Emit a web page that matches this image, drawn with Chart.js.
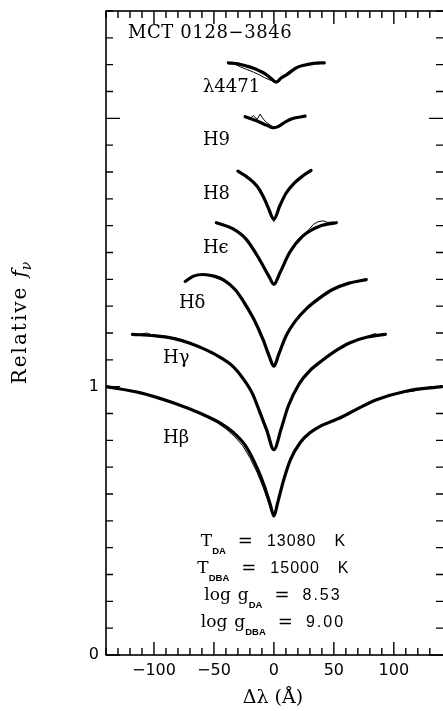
<!DOCTYPE html>
<html><head><meta charset="utf-8">
<script src="https://cdn.jsdelivr.net/npm/chart.js@4.4.1/dist/chart.umd.min.js"></script>
<style>html,body{margin:0;padding:0;background:#fff;}canvas{display:block;}</style>
</head><body>
<canvas id="c" width="443" height="711"></canvas>
<script>
// ---------- data (Δλ in Å, relative flux with vertical offsets) ----------
const xLabelValues = [-100, -50, 0, 50, 100];
const yLabelValues = [0, 1];

// H-beta
const hbModelX = [-140,-112,-84,-60,-45,-34,-24,-14,-8,-3,0,3,8,14,22,30,40,50,60,70,85,110,140];
const hbModelY = [1.000,0.978,0.940,0.898,0.865,0.830,0.782,0.697,0.630,0.560,0.518,0.565,0.650,0.730,0.792,0.828,0.856,0.874,0.895,0.918,0.950,0.983,1.000];
const hbObsX = [-140,-132,-125,-118,-112,-104,-96,-88,-80,-72,-64,-56,-48,-40,-33,-26,-20,-14,-9,-5,-2,0,2,5,9,14,20,26,32,38,44,50,56,62,68,74,80,86,92,98,104,110,116,122,128,134,140];
const hbObsY = [0.998,0.992,0.990,0.985,0.979,0.968,0.960,0.948,0.935,0.922,0.904,0.886,0.868,0.843,0.815,0.780,0.735,0.680,0.625,0.575,0.535,0.515,0.540,0.598,0.668,0.728,0.782,0.812,0.835,0.852,0.862,0.874,0.880,0.895,0.910,0.925,0.940,0.951,0.958,0.968,0.975,0.980,0.983,0.990,0.993,0.996,0.999];

// H-gamma
const hgModelX = [-118,-100,-84,-70,-57,-45,-34,-26,-18,-12,-6,0,6,12,21,30,41,52,63,78,93];
const hgModelY = [1.195,1.190,1.180,1.162,1.138,1.110,1.075,1.032,0.975,0.908,0.838,0.765,0.842,0.928,1.010,1.060,1.100,1.135,1.163,1.185,1.195];
const hgObsX = [-118,-112,-106,-100,-94,-88,-82,-76,-70,-64,-58,-52,-46,-40,-34,-28,-22,-16,-11,-6,-3,0,3,6,10,14,18,22,26,30,36,42,48,54,60,66,72,78,84,88,93];
const hgObsY = [1.196,1.195,1.200,1.190,1.191,1.184,1.182,1.170,1.165,1.150,1.140,1.128,1.108,1.095,1.072,1.045,1.005,0.960,0.905,0.838,0.790,0.760,0.790,0.842,0.905,0.955,0.985,1.020,1.035,1.055,1.085,1.100,1.125,1.138,1.160,1.168,1.180,1.186,1.198,1.192,1.196];

// H-delta
const hdModelX = [-74,-67,-59,-50,-42,-32,-23,-16,-9,-4,0,4,10,18,27,38,49,62,77];
const hdModelY = [1.392,1.412,1.418,1.412,1.398,1.360,1.300,1.245,1.175,1.115,1.076,1.120,1.188,1.245,1.290,1.330,1.362,1.385,1.399];
const hdObsX = [-74,-68,-62,-56,-50,-44,-38,-32,-26,-22,-18,-14,-10,-6,-3,0,3,6,10,14,18,23,28,34,40,46,52,58,64,70,77];
const hdObsY = [1.390,1.410,1.418,1.416,1.410,1.398,1.385,1.360,1.330,1.300,1.262,1.228,1.185,1.140,1.105,1.078,1.108,1.150,1.190,1.222,1.246,1.270,1.295,1.318,1.336,1.352,1.368,1.378,1.386,1.393,1.400];

// H-epsilon
const heModelX = [-48,-34,-23,-12,-4,0,5,13,24,38,52];
const heModelY = [1.611,1.588,1.549,1.474,1.410,1.381,1.424,1.499,1.561,1.598,1.611];
const heObsX = [-48,-42,-36,-30,-26,-22,-18,-14,-10,-6,-3,0,3,6,10,14,17,21,26,30,33,37,41,45,49,52];
const heObsY = [1.612,1.605,1.592,1.575,1.565,1.545,1.520,1.488,1.458,1.430,1.405,1.380,1.405,1.432,1.470,1.508,1.520,1.548,1.570,1.590,1.605,1.615,1.618,1.612,1.614,1.611];

// H8
const h8ModelX = [-30,-22,-14,-9,-5,0,5,10,16,24,31];
const h8ModelY = [1.803,1.780,1.747,1.710,1.670,1.625,1.675,1.720,1.754,1.785,1.806];
const h8ObsX = [-30,-26,-22,-18,-14,-10,-7,-4,-2,0,2,5,8,12,16,20,24,28,31];
const h8ObsY = [1.803,1.795,1.782,1.768,1.748,1.715,1.685,1.650,1.628,1.615,1.630,1.672,1.705,1.735,1.756,1.772,1.786,1.798,1.806];

// H9
const h9ModelX = [-24,-15,-8,-3,0,4,10,17,26];
const h9ModelY = [2.006,1.992,1.978,1.968,1.965,1.970,1.988,2.001,2.008];
const h9ObsX = [-24,-20,-17,-14,-11.5,-9,-6,-3,0,3,6,10,14,18,22,26];
const h9ObsY = [2.006,2.000,2.010,1.996,2.016,1.998,1.984,1.975,1.966,1.972,1.978,1.990,1.996,2.003,2.006,2.009];

// He I 4471
const heiModelX = [-38,-30,-23,-17,-12,-7,-3,2,6,11,19,26,33,42];
const heiModelY = [2.207,2.203,2.195,2.187,2.177,2.165,2.151,2.135,2.150,2.164,2.189,2.199,2.205,2.207];
const heiObsX = [-38,-33,-28,-23,-17,-12,-8,-4,0,2,6,11,16,22,28,33,37,42];
const heiObsY = [2.207,2.203,2.192,2.183,2.172,2.162,2.152,2.144,2.138,2.135,2.150,2.165,2.178,2.193,2.200,2.206,2.203,2.209];

// text labels
const lineLabels = ["MCT 0128\u22123846", "\u03bb4471", "H9", "H8", "H\u03f5", "H\u03b4", "H\u03b3", "H\u03b2"];

// ---------- presentation ----------
const zip = (xs, ys) => xs.map((x, i) => ({x: x, y: ys[i]}));
const profiles = [
  [hbObsX, hbObsY, hbModelX, hbModelY],
  [hgObsX, hgObsY, hgModelX, hgModelY],
  [hdObsX, hdObsY, hdModelX, hdModelY],
  [heObsX, heObsY, heModelX, heModelY],
  [h8ObsX, h8ObsY, h8ModelX, h8ModelY],
  [h9ObsX, h9ObsY, h9ModelX, h9ModelY],
  [heiObsX, heiObsY, heiModelX, heiModelY]
];
const datasets = [];
profiles.forEach(p => {
  datasets.push({data: zip(p[2], p[3]), borderColor: '#000', borderWidth: 3.2, pointRadius: 0, cubicInterpolationMode: 'monotone', fill: false, borderCapStyle: 'round', borderJoinStyle: 'round'});
  datasets.push({data: zip(p[0], p[1]), borderColor: '#000', borderWidth: 1, pointRadius: 0, tension: 0, fill: false});
});

// label anchors (data coords: left edge, vertical middle)
const labelPos = [
  {x: -121.7, y: 2.318}, {x: -59.2, y: 2.116}, {x: -59.2, y: 1.918}, {x: -59.2, y: 1.717},
  {x: -59.2, y: 1.515}, {x: -79.2, y: 1.310}, {x: -92.5, y: 1.105}, {x: -92.5, y: 0.806}
];

const SERIF = '"DejaVu Serif", serif';
const SANS = '"Liberation Sans", Arial, sans-serif';
const SUB = 'bold 9.5px ' + SANS;
const EQ = '18px "DejaVu Sans"';
const NUM = '16px ' + SANS;
const paramLines = [
  {y: 0.407, runs: [{t: 'T', f: '17px ' + SERIF}, {t: 'DA', f: SUB, dy: 8}, {g: 12}, {t: '=', f: EQ}, {g: 14}, {t: '13080', f: NUM, ls: 1}, {g: 18}, {t: 'K', f: NUM}]},
  {y: 0.306, runs: [{t: 'T', f: '17px ' + SERIF}, {t: 'DBA', f: SUB, dy: 8}, {g: 12}, {t: '=', f: EQ}, {g: 14}, {t: '15000', f: NUM, ls: 1}, {g: 18}, {t: 'K', f: NUM}]},
  {y: 0.205, runs: [{t: 'log', f: '17px ' + SERIF}, {g: 7}, {t: 'g', f: '17px ' + SERIF}, {t: 'DA', f: SUB, dy: 8}, {g: 12}, {t: '=', f: EQ}, {g: 13}, {t: '8.53', f: NUM, ls: 2}]},
  {y: 0.104, runs: [{t: 'log', f: '17px ' + SERIF}, {g: 7}, {t: 'g', f: '17px ' + SERIF}, {t: 'DBA', f: SUB, dy: 8}, {g: 12}, {t: '=', f: EQ}, {g: 13}, {t: '9.00', f: NUM, ls: 2}]}
];

function setLS(ctx, v) { if ('letterSpacing' in ctx) ctx.letterSpacing = (v || 0) + 'px'; }
function runWidth(ctx, r) {
  if (r.g) return r.g;
  ctx.font = r.f; setLS(ctx, r.ls);
  return ctx.measureText(r.t).width;
}
function drawRuns(ctx, runs, cx, baseY) {
  let total = 0;
  runs.forEach(r => total += runWidth(ctx, r));
  let x = cx - total / 2;
  ctx.textAlign = 'left'; ctx.textBaseline = 'alphabetic';
  runs.forEach(r => {
    const w = runWidth(ctx, r);
    if (!r.g) { ctx.fillText(r.t, x, baseY + (r.dy || 0)); }
    x += w;
  });
  setLS(ctx, 0);
}

const framePlugin = {
  id: 'frame',
  afterDatasetsDraw(chart) {
    const ctx = chart.ctx, a = chart.chartArea, xs = chart.scales.x, ys = chart.scales.y;
    ctx.save();
    ctx.strokeStyle = '#000'; ctx.fillStyle = '#000';
    ctx.lineWidth = 1.6;
    ctx.strokeRect(a.left, a.top, a.right + 1 - a.left, a.bottom - a.top);
    ctx.lineWidth = 1.4;
    ctx.beginPath();
    xs.ticks.forEach(t => {
      if (t.value > 140.5) return;
      const px = xs.getPixelForValue(t.value);
      const len = (Math.round(t.value) % 50 === 0) ? 13 : 7;
      ctx.moveTo(px, a.bottom); ctx.lineTo(px, a.bottom - len);
      ctx.moveTo(px, a.top); ctx.lineTo(px, a.top + len);
    });
    ys.ticks.forEach(t => {
      const py = ys.getPixelForValue(t.value);
      const len = (Math.abs(t.value - Math.round(t.value)) < 1e-6) ? 14 : 7;
      ctx.moveTo(a.left, py); ctx.lineTo(a.left + len, py);
      ctx.moveTo(a.right, py); ctx.lineTo(a.right - len, py);
    });
    ctx.stroke();

    // line labels
    ctx.textAlign = 'left'; ctx.textBaseline = 'middle';
    lineLabels.forEach((s, i) => {
      ctx.font = '18px ' + SERIF;
      setLS(ctx, i === 0 ? 0.6 : 0);
      ctx.fillText(s, xs.getPixelForValue(labelPos[i].x), ys.getPixelForValue(labelPos[i].y));
    });
    setLS(ctx, 0);

    // parameter block
    paramLines.forEach(l => drawRuns(ctx, l.runs, xs.getPixelForValue(-0.8), ys.getPixelForValue(l.y)));

    // x title
    ctx.font = '19px ' + SERIF;
    ctx.textAlign = 'center'; ctx.textBaseline = 'alphabetic';
    ctx.fillText('\u0394\u03bb (\u00c5)', xs.getPixelForValue(-0.8), 703);

    // y title (rotated)
    ctx.translate(26, 323);
    ctx.rotate(-Math.PI / 2);
    const yruns = [{t: 'Relative', f: '20px ' + SERIF, ls: 2}, {g: 8}, {t: 'f', f: 'italic 20px ' + SERIF}, {t: '\u03bd', f: 'italic 14px ' + SERIF, dy: 5}];
    drawRuns(ctx, yruns, 0, 0);
    ctx.restore();
  }
};

const fmt = v => v < 0 ? '\u2212' + Math.abs(v) : String(v);

new Chart(document.getElementById('c'), {
  type: 'line',
  data: {datasets: datasets},
  options: {
    responsive: false, animation: false, events: [],
    layout: {padding: {top: 11, right: 0, bottom: 0, left: 0}},
    plugins: {legend: {display: false}, tooltip: {enabled: false}},
    scales: {
      x: {
        type: 'linear', min: -140, max: 141,
        grid: {display: false, drawTicks: false}, border: {display: false},
        ticks: {stepSize: 10, padding: 6, autoSkip: false, maxRotation: 0, color: '#000',
          font: {family: '"DejaVu Sans"', size: 16},
          callback: v => xLabelValues.some(u => Math.abs(u - v) < 1e-6) ? fmt(Math.round(v)) : ''},
        afterFit: s => { s.height = 56; s.paddingLeft = 0; s.paddingRight = 0; }
      },
      y: {
        type: 'linear', min: 0, max: 2.4,
        grid: {display: false, drawTicks: false}, border: {display: false},
        ticks: {stepSize: 0.1, padding: 7, autoSkip: false, color: '#000',
          font: {family: '"DejaVu Sans"', size: 16},
          callback: v => { const m = yLabelValues.find(u => Math.abs(u - v) < 1e-6); return m === undefined ? '' : String(m); }},
        afterFit: s => { s.width = 106; s.paddingTop = 0; s.paddingBottom = 0; }
      }
    }
  },
  plugins: [framePlugin]
});
</script>
</body></html>
